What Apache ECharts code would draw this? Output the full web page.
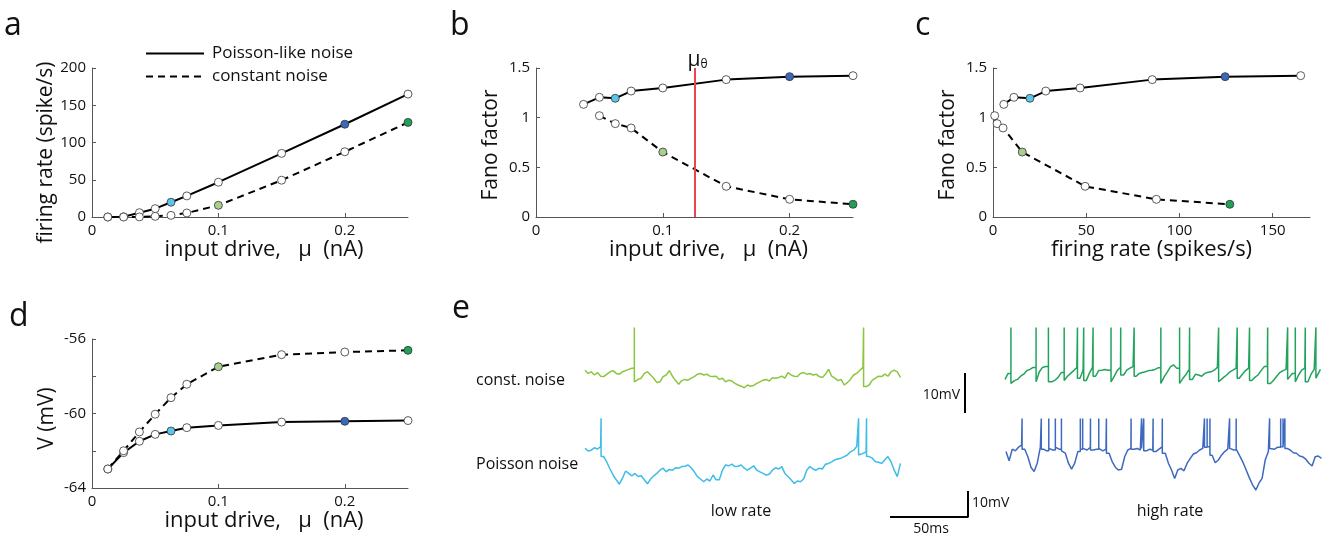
<!DOCTYPE html>
<html>
<head>
<meta charset="utf-8">
<script src="https://cdn.jsdelivr.net/npm/echarts@6/dist/echarts.min.js"></script>
<style>
  html, body { margin: 0; padding: 0; background: #fff; }
  #chart { width: 1328px; height: 537px; }
</style>
</head>
<body>
<div id="chart"></div>
<script>
// ---- panel a-d data ----
const mu = [0.0125, 0.025, 0.0375, 0.05, 0.0625, 0.075, 0.1, 0.15, 0.2, 0.25];
const ratePoisson = [0, 0.3, 5.8, 11.2, 19.8, 28.3, 46.7, 85.4, 124.5, 165];
const rateConst = [0, 0, 0.1, 0.9, 2.2, 5.4, 15.7, 49.4, 87.6, 127];
// Fano factor exists only where the neuron fires
const fanoPoisson = [1.134, 1.205, 1.195, 1.268, 1.299, 1.383, 1.413, 1.423]; // mu[2..]
const fanoConst = [1.02, 0.94, 0.896, 0.654, 0.309, 0.178, 0.128];            // mu[3..]
const vPoisson = [-62.98, -62.1, -61.49, -61.12, -60.94, -60.76, -60.64, -60.46, -60.42, -60.38];
const vConst = [-62.98, -62.0, -60.99, -60.04, -59.15, -58.43, -57.49, -56.84, -56.70, -56.61];
const muTheta = 0.125;

// conditions shown as traces in panel e
const muLowPoisson = 0.0625, muHighPoisson = 0.2;
const muLowConst = 0.1, muHighConst = 0.25;

// ---- panel e traces: membrane potential (mV), one sample every 2 ms ----
const dt = 2;
const vmLowConst = [-56.3,-57.1,-56.7,-57.5,-56.9,-57.8,-57.9,-57.3,-56.7,-56.4,-57.1,-57.3,-56.7,-56.4,-56.1,-55.8,
  -59.2,-58.6,-58.3,-57.1,-56.7,-57.5,-58.3,-59.4,-59.2,-57.9,-57.5,-56.4,-57.8,-58.9,-59.8,-58.9,-58.6,-58.8,-58.3,
  -57.9,-57.3,-57.1,-57.5,-57.3,-57.8,-57.9,-57.8,-58.6,-58.3,-59.2,-58.8,-59.0,-59.6,-60.0,-60.3,-60.7,-60.0,-60.3,
  -60.1,-59.6,-59.2,-58.8,-58.6,-59.0,-58.2,-58.3,-58.1,-57.8,-58.3,-56.9,-57.5,-57.8,-57.9,-57.1,-56.9,-57.3,-57.1,
  -57.5,-57.3,-57.9,-58.1,-57.3,-56.1,-57.8,-58.3,-58.9,-58.6,-60.0,-59.4,-58.6,-57.5,-57.1,-56.3,-55.6,-60.4,-60.0,
  -58.8,-58.3,-57.8,-57.9,-57.3,-57.8,-56.7,-56.3,-56.7,-58.1];
const spikesLowConst = [31.6, 178.4];

const vmLowPoisson = [-55.0,-55.7,-55.5,-54.9,-55.2,-54.6,-57.1,-58.5,-60.2,-61.7,-62.9,-64.0,-62.5,-60.7,-61.3,-61.9,
  -61.3,-62.1,-61.9,-62.9,-63.9,-62.7,-61.9,-61.3,-60.5,-60.0,-60.9,-60.3,-60.5,-59.9,-60.0,-59.6,-59.5,-59.2,-59.9,
  -60.9,-62.1,-62.7,-63.4,-62.7,-63.2,-61.7,-62.9,-62.9,-60.5,-59.2,-59.4,-59.0,-59.6,-59.5,-59.2,-60.0,-60.5,-60.0,
  -59.4,-60.5,-60.9,-61.3,-61.7,-61.5,-60.5,-59.9,-60.2,-59.6,-61.3,-62.1,-62.9,-63.8,-63.2,-63.4,-62.7,-60.5,-59.6,
  -60.2,-60.5,-60.0,-60.2,-59.0,-58.8,-58.4,-57.9,-57.7,-57.5,-57.1,-56.7,-55.9,-55.5,-54.6,-56.7,-56.3,-55.9,-57.1,
  -57.5,-58.4,-58.5,-58.8,-57.9,-57.1,-58.4,-60.5,-62.1,-58.8];
const spikesLowPoisson = [10.3, 175.2, 180.3];

const vmHighConst = [-58.6,-57.1,-59.6,-58.9,-58.6,-57.8,-57.3,-56.4,-56.1,-55.6,-59.2,-56.7,-55.6,-55.4,-59.2,-59.2,
  -58.8,-58.1,-56.9,-58.9,-57.8,-57.1,-56.4,-55.6,-58.3,-56.3,-58.9,-57.1,-55.6,-57.8,-56.4,-56.3,-56.1,-56.3,-59.2,
  -57.8,-56.3,-55.6,-57.5,-56.3,-55.8,-55.4,-57.8,-57.1,-56.9,-56.7,-56.4,-56.3,-56.1,-55.7,-59.6,-57.9,-56.7,-55.4,
  -55.0,-55.8,-59.6,-58.3,-57.3,-56.1,-58.6,-57.3,-57.5,-57.8,-57.1,-56.8,-56.7,-56.3,-55.6,-59.2,-58.1,-57.5,-56.7,
  -56.3,-55.8,-58.3,-57.3,-56.4,-55.8,-58.9,-58.1,-57.5,-56.4,-55.4,-55.3,-59.6,-58.8,-57.8,-56.9,-56.4,-56.1,-58.6,
  -57.1,-59.2,-57.5,-56.3,-55.8,-59.2,-57.3,-56.1,-58.3,-56.1];
const spikesHighConst = [3.8, 19.9, 27.8, 37.9, 46.4, 50.4, 56.4, 67.9, 74.1, 82.7, 99.8, 111.8, 118.2, 136.8,
  148.7, 156.6, 168.2, 181.0, 185.9, 192.3, 199.1];

const vmHighPoisson = [-60.4,-62.7,-59.8,-60.2,-59.3,-58.8,-59.8,-61.7,-64.3,-65.4,-63.3,-59.3,-59.8,-60.2,-59.6,-60.0,
  -59.3,-59.8,-60.2,-60.8,-63.3,-64.8,-63.3,-60.4,-59.8,-59.6,-60.0,-59.3,-60.0,-59.8,-59.6,-60.2,-59.8,-60.8,-62.9,
  -64.3,-65.0,-64.8,-61.7,-60.0,-59.6,-59.8,-59.6,-60.0,-59.6,-60.2,-59.8,-60.0,-60.4,-59.8,-59.2,-60.8,-63.3,-65.0,
  -67.1,-65.0,-64.6,-65.2,-63.3,-62.1,-61.0,-60.7,-60.0,-59.6,-59.3,-59.2,-61.3,-63.2,-62.5,-61.3,-60.4,-59.8,-59.6,
  -60.0,-59.8,-61.7,-63.3,-65.2,-67.1,-68.8,-70.0,-68.3,-67.1,-62.5,-60.4,-59.6,-59.8,-59.3,-59.2,-59.3,-59.6,-60.0,
  -60.7,-60.8,-61.5,-61.7,-62.3,-63.3,-64.0,-61.7,-61.5,-62.1];
const spikesHighPoisson = [10.3, 22.6, 27.4, 31.6, 35.5, 47.6, 49.1, 54.1, 59.4, 64.3, 80.1, 86.8, 88.2, 94.2, 100.1,
  127.1, 128.8, 130.6, 143.2, 147.4, 168.8, 175.9, 177.4, 178.6];

const spikePeakConst = -45.6;
const spikePeakLowPoisson = -47.5;
const spikePeakHighPoisson = -52.1;
const scaleBarMs = 50, scaleBarMv = 10;

// ---- styles ----
const FONT = 'Open Sans, sans-serif';
const INK = '#111';
const C = {
  lowPoisson: '#5cc6ea', highPoisson: '#3b68bd',
  lowConst: '#a9cf8f', highConst: '#1fa257',
  traceLowConst: '#8cc63e', traceLowPoisson: '#3cbde6',
  traceHighConst: '#22a35c', traceHighPoisson: '#3d69bf',
  red: '#e8454e'
};
const MU_TITLE = 'input drive,   μ  (nA)';

const chart = echarts.init(document.getElementById('chart'));

function markerColor(m, low, high, lowColor, highColor) {
  if (m === low) return lowColor;
  if (m === high) return highColor;
  return '#ffffff';
}
// builds line points with open / coloured markers
function points(xs, ys, mus, kind) {
  return xs.map((x, i) => ({
    value: [x, ys[i]],
    itemStyle: {
      color: kind === 'p'
        ? markerColor(mus[i], muLowPoisson, muHighPoisson, C.lowPoisson, C.highPoisson)
        : markerColor(mus[i], muLowConst, muHighConst, C.lowConst, C.highConst)
    }
  }));
}
// membrane trace with spikes drawn as vertical strokes
function trace(vm, spikes, peak) {
  const out = [];
  let s = 0;
  for (let i = 0; i < vm.length; i++) {
    const t = i * dt;
    while (s < spikes.length && spikes[s] < t) {
      out.push([spikes[s], vm[i - 1]], [spikes[s], peak], [spikes[s], vm[i]]);
      s++;
    }
    out.push([t, vm[i]]);
  }
  return out;
}

function xAx(gi, max, interval, name, shift) {
  return {
    type: 'value', gridIndex: gi, min: 0, max: max, interval: interval,
    name: name, nameLocation: 'middle', nameGap: 16,
    nameTextStyle: { fontFamily: FONT, fontSize: 22, color: INK, padding: [0, 0, 0, shift * 2] },
    axisLine: { show: true, onZero: false, lineStyle: { color: '#555', width: 1 } },
    axisTick: { show: true, inside: true, length: 4, lineStyle: { color: '#555' } },
    axisLabel: { fontFamily: FONT, fontSize: 15, color: INK, margin: 6, showMaxLabel: false },
    splitLine: { show: false }
  };
}
// shift > 0 moves the rotated title down
function yAx(gi, min, max, interval, name, shift, fmt) {
  return {
    type: 'value', gridIndex: gi, min: min, max: max, interval: interval,
    name: name, nameLocation: 'middle', nameGap: 34,
    nameTextStyle: { fontFamily: FONT, fontSize: 21, color: INK, padding: [0, shift * 2, 0, 0] },
    axisLine: { show: true, onZero: false, lineStyle: { color: '#555', width: 1 } },
    axisTick: { show: true, inside: true, length: 4, lineStyle: { color: '#555' } },
    axisLabel: { fontFamily: FONT, fontSize: 15, color: INK, margin: 6, formatter: fmt },
    splitLine: { show: false }
  };
}
function hiddenAx(gi, min, max) {
  return { type: 'value', gridIndex: gi, min: min, max: max, show: false, splitLine: { show: false } };
}

const lineCommon = {
  type: 'line', symbol: 'circle', symbolSize: 8, showAllSymbol: true,
  itemStyle: { borderColor: '#333', borderWidth: 0.8 },
  emphasis: { disabled: true }, z: 3
};
function solid(gi, data, extra) {
  return Object.assign({}, lineCommon, {
    name: 'Poisson-like noise', xAxisIndex: gi, yAxisIndex: gi, data: data,
    lineStyle: { color: '#000', width: 2 }
  }, extra || {});
}
function dashed(gi, data) {
  return Object.assign({}, lineCommon, {
    name: 'constant noise', xAxisIndex: gi, yAxisIndex: gi, data: data,
    lineStyle: { color: '#000', width: 2, type: [7, 5] }
  });
}
function traceSeries(gi, name, data, color, width) {
  return {
    type: 'line', name: name, xAxisIndex: gi, yAxisIndex: gi, data: data,
    showSymbol: false, symbol: 'none', lineStyle: { color: color, width: width || 1.5 },
    emphasis: { disabled: true }, silent: true
  };
}

const muP = mu.slice(2), muC = mu.slice(3);

const option = {
  animation: false,
  backgroundColor: '#fff',
  grid: [
    { left: 92, top: 68, width: 316, height: 149 },    // a
    { left: 536, top: 68, width: 317, height: 149 },   // b
    { left: 993, top: 68, width: 317, height: 149 },   // c
    { left: 92, top: 339, width: 316, height: 149 },   // d
    { left: 585, top: 320, width: 317, height: 80 },   // e low const
    { left: 585, top: 405, width: 317, height: 90 },   // e low poisson
    { left: 1005, top: 320, width: 317, height: 80 },  // e high const
    { left: 1006, top: 410, width: 317, height: 100 }, // e high poisson
    { left: 890, top: 491, width: 78, height: 26 },    // scale bar (bottom)
    { left: 964, top: 373, width: 2, height: 40 }      // scale bar (top)
  ].map(g => Object.assign({ outerBoundsMode: 'none', containLabel: false }, g)),
  xAxis: [
    xAx(0, 0.25, 0.1, MU_TITLE, 14),
    xAx(1, 0.25, 0.1, MU_TITLE, 14),
    xAx(2, 170, 50, 'firing rate (spikes/s)', 0),
    xAx(3, 0.25, 0.1, MU_TITLE, 14),
    hiddenAx(4, 0, 203), hiddenAx(5, 0, 203), hiddenAx(6, 0, 203), hiddenAx(7, 0, 203),
    hiddenAx(8, 0, scaleBarMs), hiddenAx(9, 0, 1)
  ],
  yAxis: [
    yAx(0, 0, 200, 50, 'firing rate (spike/s)', 10),
    yAx(1, 0, 1.5, 0.5, 'Fano factor', 2.5),
    yAx(2, 0, 1.5, 0.5, 'Fano factor', 2.5),
    yAx(3, -64, -56, 2, 'V (mV)', 5, v => (v % 4 === 0 ? String(v) : '')),
    hiddenAx(4, -63.75, -43.75), hiddenAx(5, -66.7, -44.2),
    hiddenAx(6, -63.75, -43.75), hiddenAx(7, -75, -50),
    hiddenAx(8, 0, scaleBarMv), hiddenAx(9, 0, scaleBarMv)
  ],
  legend: {
    data: ['Poisson-like noise', 'constant noise'],
    orient: 'vertical', left: 145, top: 45, padding: 0,
    itemWidth: 58, itemHeight: 2, itemGap: 6,
    selectedMode: false,
    itemStyle: { color: 'rgba(0,0,0,0)', borderWidth: 0 },
    textStyle: { fontFamily: FONT, fontSize: 17, lineHeight: 17, color: INK, padding: [0, 0, 0, 3] }
  },
  series: [
    // a
    solid(0, points(mu, ratePoisson, mu, 'p')),
    dashed(0, points(mu, rateConst, mu, 'c')),
    // b
    solid(1, points(muP, fanoPoisson, muP, 'p'), {
      markLine: {
        silent: true, symbol: 'none', animation: false, precision: 4,
        lineStyle: { color: C.red, width: 2, type: 'solid' },
        label: {
          show: true, position: 'end', distance: 0, offset: [3, 3], formatter: '{m|μ}{t|θ}',
          rich: {
            m: { fontFamily: FONT, fontSize: 21, color: INK },
            t: { fontFamily: FONT, fontSize: 12, color: INK, verticalAlign: 'bottom' }
          }
        },
        data: [{ xAxis: muTheta }]
      }
    }),
    dashed(1, points(muC, fanoConst, muC, 'c')),
    // c
    solid(2, points(ratePoisson.slice(2), fanoPoisson, muP, 'p')),
    dashed(2, points(rateConst.slice(3), fanoConst, muC, 'c')),
    // d
    solid(3, points(mu, vPoisson, mu, 'p')),
    dashed(3, points(mu, vConst, mu, 'c')),
    // e traces
    traceSeries(4, 'const low', trace(vmLowConst, spikesLowConst, spikePeakConst), C.traceLowConst),
    traceSeries(5, 'poisson low', trace(vmLowPoisson, spikesLowPoisson, spikePeakLowPoisson), C.traceLowPoisson),
    traceSeries(6, 'const high', trace(vmHighConst, spikesHighConst, spikePeakConst), C.traceHighConst),
    traceSeries(7, 'poisson high', trace(vmHighPoisson, spikesHighPoisson, spikePeakHighPoisson), C.traceHighPoisson),
    // scale bars
    traceSeries(8, 'bar ms', [[0, 0], [scaleBarMs, 0], [scaleBarMs, scaleBarMv]], '#000', 2),
    traceSeries(9, 'bar mv', [[0.5, 0], [0.5, scaleBarMv]], '#000', 2)
  ],
  graphic: [
    { type: 'text', x: 4, y: 26, style: { text: 'a', font: '32px ' + FONT, fill: INK, verticalAlign: 'middle' } },
    { type: 'text', x: 450, y: 26, style: { text: 'b', font: '32px ' + FONT, fill: INK, verticalAlign: 'middle' } },
    { type: 'text', x: 915, y: 26, style: { text: 'c', font: '32px ' + FONT, fill: INK, verticalAlign: 'middle' } },
    { type: 'text', x: 9, y: 317, style: { text: 'd', font: '32px ' + FONT, fill: INK, verticalAlign: 'middle' } },
    { type: 'text', x: 452, y: 309, style: { text: 'e', font: '32px ' + FONT, fill: INK, verticalAlign: 'middle' } },
    { type: 'text', x: 476, y: 380, style: { text: 'const. noise', font: '16px ' + FONT, fill: INK, verticalAlign: 'middle' } },
    { type: 'text', x: 476, y: 464, style: { text: 'Poisson noise', font: '16px ' + FONT, fill: INK, verticalAlign: 'middle' } },
    { type: 'text', x: 741, y: 511, style: { text: 'low rate', font: '16px ' + FONT, fill: INK, align: 'center', verticalAlign: 'middle' } },
    { type: 'text', x: 1170, y: 511, style: { text: 'high rate', font: '16px ' + FONT, fill: INK, align: 'center', verticalAlign: 'middle' } },
    { type: 'text', x: 960, y: 395, style: { text: '10mV', font: '14px ' + FONT, fill: INK, align: 'right', verticalAlign: 'middle' } },
    { type: 'text', x: 972, y: 503, style: { text: '10mV', font: '14px ' + FONT, fill: INK, verticalAlign: 'middle' } },
    { type: 'text', x: 931, y: 529, style: { text: '50ms', font: '14px ' + FONT, fill: INK, align: 'center', verticalAlign: 'middle' } }
  ]
};

chart.setOption(option);
window.addEventListener('resize', () => chart.resize());
</script>
</body>
</html>
